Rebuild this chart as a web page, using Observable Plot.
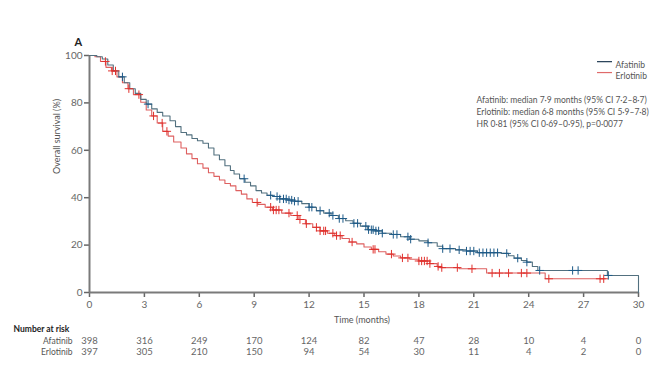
<!DOCTYPE html>
<html>
<head>
<meta charset="utf-8">
<script src="https://cdn.jsdelivr.net/npm/d3@7"></script>
<script src="https://cdn.jsdelivr.net/npm/@observablehq/plot@0.6"></script>
<style>
  html, body { margin: 0; padding: 0; background: #fff; }
  #chart svg { display: block; }
</style>
</head>
<body>
<div id="chart"></div>
<script>
// ---- data ----
const monthTicks = [0, 3, 6, 9, 12, 15, 18, 21, 24, 27, 30];
const survivalTicks = [0, 20, 40, 60, 80, 100];

const afatinibRisk = [398, 316, 249, 170, 124, 82, 47, 28, 10, 4, 0];
const erlotinibRisk = [397, 305, 210, 150, 94, 54, 30, 11, 4, 2, 0];

const afatinibTime = [0, 0.4, 0.7, 1.0, 1.3, 1.6, 1.9, 2.2, 2.5, 2.8, 3.1, 3.4, 3.7, 4.0, 4.4, 4.7, 5.0, 5.3, 5.6, 5.9, 6.2, 6.5, 6.8, 7.1, 7.4, 7.7, 7.9, 8.2, 8.5, 8.8, 9.1, 9.4, 9.7, 10.0, 10.4, 10.8, 11.2, 11.6, 12.0, 12.4, 12.8, 13.2, 13.6, 14.0, 14.4, 14.8, 15.2, 15.6, 16.0, 16.5, 17.0, 17.5, 18.0, 18.5, 19.0, 19.3, 20.0, 20.6, 21.2, 22.5, 22.9, 23.2, 23.6, 23.9, 24.2, 24.5, 28.3, 30];
const afatinibSurv = [100, 99.5, 98.5, 96, 93.5, 91, 88.5, 86, 84, 81.5, 79.5, 77.5, 76, 74.5, 72.5, 70, 67.5, 66.5, 65, 64, 63, 61, 58, 56, 53.5, 51.5, 50, 48, 46.5, 45, 43, 42, 41, 40.5, 39.5, 39, 38.5, 37.5, 36, 34.5, 33.5, 32.5, 31.2, 30.3, 29.2, 28, 26.5, 26, 25, 24.5, 23.5, 22.5, 21.8, 21, 19.5, 18.5, 18, 17.5, 16.8, 16.5, 15.5, 14.5, 13.5, 12.8, 11, 9.3, 7.2, 0];

const erlotinibTime = [0, 0.3, 0.6, 0.9, 1.2, 1.5, 1.8, 2.1, 2.4, 2.8, 3.1, 3.4, 3.7, 4.0, 4.3, 4.6, 5.0, 5.3, 5.6, 5.9, 6.2, 6.5, 6.8, 7.1, 7.4, 7.7, 8.0, 8.3, 8.6, 8.9, 9.2, 9.6, 10.0, 10.5, 11.0, 11.4, 11.8, 12.2, 12.6, 13.0, 13.4, 13.8, 14.2, 14.6, 15.0, 15.4, 15.8, 16.2, 16.6, 17.0, 17.5, 18.0, 18.6, 19.0, 19.2, 20.2, 21.7, 24.9, 28.2];
const erlotinibSurv = [100, 99.5, 97.5, 95, 93.5, 91, 88.5, 86, 83.5, 80.3, 77, 74.5, 71.5, 68, 66, 63.5, 61, 58.5, 56.5, 54.3, 52.5, 50.5, 49, 47.5, 46, 45, 43, 41.5, 39.5, 38, 37.2, 36, 34.8, 33.5, 32.5, 30.8, 29, 27.5, 26, 25, 24, 22.8, 21.3, 20.5, 19.2, 18.2, 17.2, 16.2, 15.4, 14.6, 14, 13.3, 12.2, 11, 10.5, 10, 8.2, 5.8, 5.8];

const afatinibCensored = [1.8, 3.2, 8.45, 9.9, 10.25, 10.4, 10.6, 10.75, 10.9, 11.05, 11.2, 11.4, 12.0, 12.15, 12.6, 13.1, 13.3, 13.65, 13.85, 14.45, 14.65, 15.1, 15.25, 15.4, 15.5, 15.65, 15.8, 16.0, 16.6, 16.8, 17.4, 17.55, 18.5, 19.3, 19.7, 20.2, 20.6, 20.8, 21.0, 21.3, 21.5, 21.7, 21.9, 22.1, 22.3, 22.8, 23.4, 23.9, 24.6, 26.4, 26.7, 28.35];
const erlotinibCensored = [0.87, 1.24, 1.42, 2.15, 2.7, 3.5, 3.97, 4.23, 9.16, 9.9, 10.05, 10.2, 10.35, 10.9, 11.35, 11.5, 11.85, 12.4, 12.6, 12.8, 12.9, 13.3, 13.5, 13.7, 14.35, 15.5, 15.6, 16.5, 17.1, 17.4, 18.0, 18.15, 18.3, 18.45, 18.6, 19.05, 19.25, 20.1, 20.9, 22.0, 22.4, 22.9, 23.6, 23.9, 25.1, 27.9, 28.1];

const seriesNames = ["Afatinib", "Erlotinib"];
const annotationLines = [
  "Afatinib: median 7·9 months (95% CI 7·2–8·7)",
  "Erlotinib: median 6·8 months (95% CI 5·9–7·8)",
  "HR 0·81 (95% CI 0·69–0·95), p=0·0077"
];

// ---- build tables ----
const toRows = (T, S) => T.map((t, i) => ({t, s: S[i]}));
const afatinib = toRows(afatinibTime, afatinibSurv);
const erlotinib = toRows(erlotinibTime, erlotinibSurv);
function survAt(T, S, t) {
  const i = d3.bisectRight(T, t) - 1;
  return S[Math.max(0, i)];
}
const afCens = afatinibCensored.map(t => ({t, s: survAt(afatinibTime, afatinibSurv, t)}));
const erCens = erlotinibCensored.map(t => ({t, s: survAt(erlotinibTime, erlotinibSurv, t)}));

const blueLine = "#52707f", redLine = "#de6060";
const blueMark = "#1d5a88", redMark = "#e0302c";
const font = "Lato, 'Open Sans', sans-serif";

const chart = Plot.plot({
  width: 664,
  height: 384,
  marginLeft: 89,
  marginRight: 26,
  marginTop: 55,
  marginBottom: 92,
  style: {fontFamily: font, background: "#fff"},
  x: {domain: [0, 30]},
  y: {domain: [0, 100]},
  marks: [
    Plot.axisX({ticks: monthTicks, tickSize: 5, tickPadding: 3, stroke: "#666", strokeWidth: 1.5, fill: "#666", fontSize: 10, label: null}),
    Plot.axisY({ticks: survivalTicks, tickSize: 5, tickPadding: 2, stroke: "#666", strokeWidth: 1.5, fill: "#666", fontSize: 10, label: null}),
    Plot.ruleY([0], {stroke: "#7a7a7a", strokeWidth: 2}),
    Plot.ruleX([0], {stroke: "#7a7a7a", strokeWidth: 2}),
    Plot.line(erlotinib, {x: "t", y: "s", curve: "step-after", stroke: redLine, strokeWidth: 1.1}),
    Plot.line(afatinib, {x: "t", y: "s", curve: "step-after", stroke: blueLine, strokeWidth: 1.1}),
    Plot.dot(erCens, {x: "t", y: "s", symbol: "plus", r: 2.8, stroke: redMark, strokeWidth: 1}),
    Plot.dot(afCens, {x: "t", y: "s", symbol: "plus", r: 2.8, stroke: blueMark, strokeWidth: 1}),
    // title
    Plot.text(["A"], {frameAnchor: "top-left", dx: -15, dy: -17, fontSize: 11, fontWeight: "bold", fill: "#222"}),
    // axis labels
    Plot.text(["Overall survival (%)"], {frameAnchor: "left", dx: -32, rotate: -90, fontSize: 9, fill: "#555"}),
    Plot.text(["Time (months)"], {frameAnchor: "bottom", dx: -2, dy: 30, fontSize: 9, fill: "#555"}),
    // legend
    Plot.ruleY([seriesNames[0]], {y: 97.4, x1: 27.76, x2: 28.58, stroke: "#1f3a52", strokeWidth: 1.2}),
    Plot.ruleY([seriesNames[1]], {y: 92.8, x1: 27.76, x2: 28.58, stroke: "#e06a6a", strokeWidth: 1.2}),
    Plot.text([seriesNames[0]], {frameAnchor: "top-left", dx: 526, dy: 6, textAnchor: "start", fontSize: 8.5, fill: "#555"}),
    Plot.text([seriesNames[1]], {frameAnchor: "top-left", dx: 526, dy: 17, textAnchor: "start", fontSize: 8.5, fill: "#555"}),
    // annotation
    Plot.text([annotationLines[0]], {frameAnchor: "top-left", dx: 387, dy: 41, textAnchor: "start", fontSize: 8.5, fill: "#555"}),
    Plot.text([annotationLines[1]], {frameAnchor: "top-left", dx: 387, dy: 53, textAnchor: "start", fontSize: 8.5, fill: "#555"}),
    Plot.text([annotationLines[2]], {frameAnchor: "top-left", dx: 387, dy: 65, textAnchor: "start", fontSize: 8.5, fill: "#555"}),
    // number at risk
    Plot.text(["Number at risk"], {frameAnchor: "bottom-left", dx: -76, dy: 39, textAnchor: "start", fontSize: 8.5, fontWeight: "bold", fill: "#222"}),
    Plot.text([seriesNames[0]], {frameAnchor: "bottom-left", dx: -17, dy: 51, textAnchor: "end", fontSize: 8.5, fill: "#555"}),
    Plot.text([seriesNames[1]], {frameAnchor: "bottom-left", dx: -17, dy: 62, textAnchor: "end", fontSize: 8.5, fill: "#555"}),
    Plot.text(monthTicks, {x: d => d, frameAnchor: "bottom", dy: 51, text: (d, i) => String(afatinibRisk[i]), fontSize: 9.5, fill: "#666"}),
    Plot.text(monthTicks, {x: d => d, frameAnchor: "bottom", dy: 62, text: (d, i) => String(erlotinibRisk[i]), fontSize: 9.5, fill: "#666"})
  ]
});
document.getElementById("chart").appendChild(chart);
</script>
</body>
</html>
